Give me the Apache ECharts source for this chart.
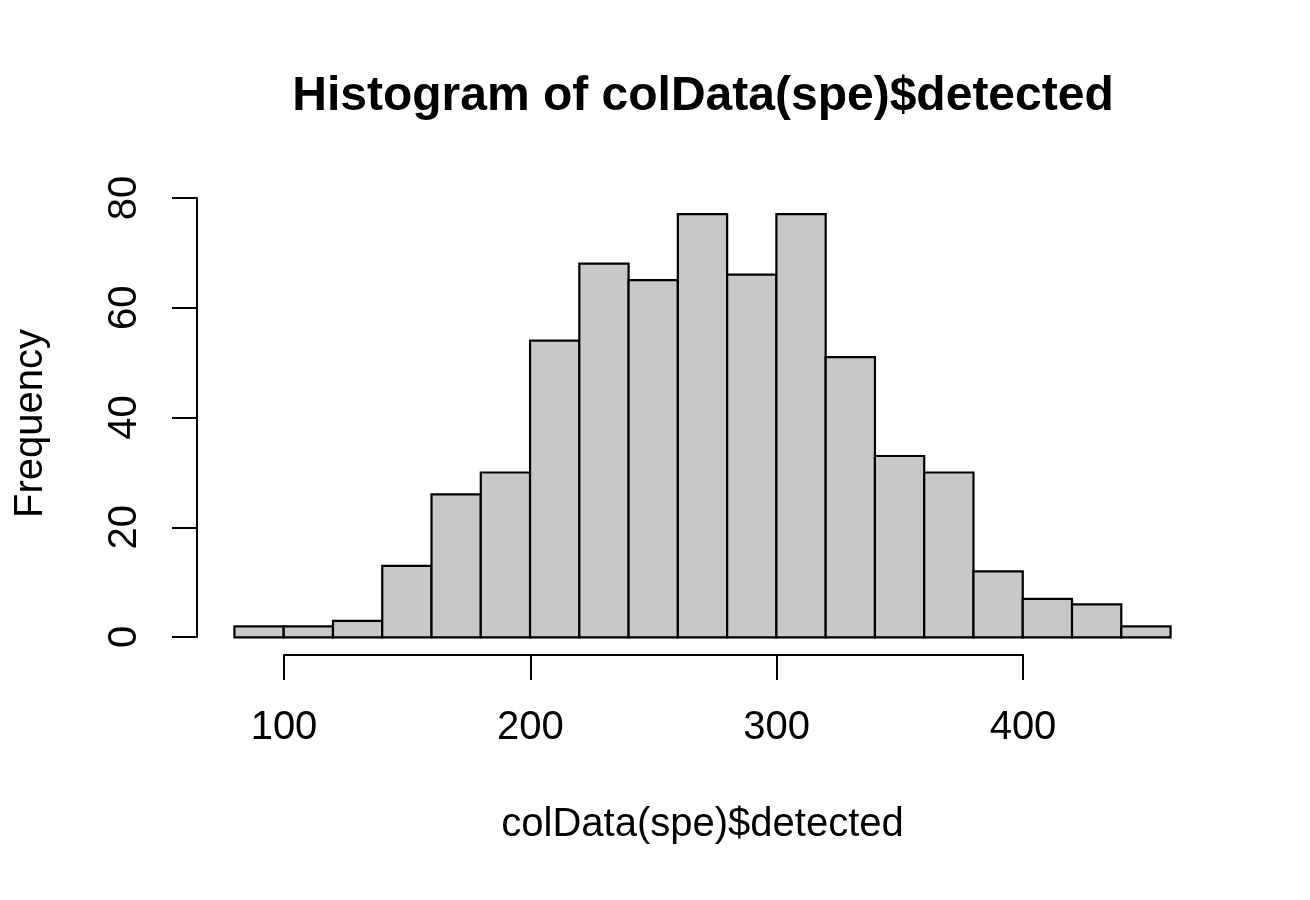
<!DOCTYPE html>
<html>
<head>
<meta charset="utf-8">
<script src="https://cdn.jsdelivr.net/npm/echarts@6/dist/echarts.min.js"></script>
<style>html,body{margin:0;padding:0;background:#fff}#c{width:1310px;height:900px}</style>
</head>
<body>
<div id="c"></div>
<script>
// Histogram data (bin edges and counts)
var binStarts = [80,100,120,140,160,180,200,220,240,260,280,300,320,340,360,380,400,420,440];
var binEnds   = [100,120,140,160,180,200,220,240,260,280,300,320,340,360,380,400,420,440,460];
var counts    = [2,2,3,13,26,30,54,68,65,77,66,77,51,33,30,12,7,6,2];
var xTicks = [100,200,300,400];
var yTicks = [0,20,40,60,80];
var titleText = 'Histogram of colData(spe)$detected';
var xName = 'colData(spe)$detected';
var yName = 'Frequency';

var FONT = '"Liberation Sans", Arial, Helvetica, sans-serif';
var xMin = 80, xMax = 460, yMin = 0, yMax = 80;
var xExt = (xMax - xMin) * 0.04, yExt = (yMax - yMin) * 0.04;

var data = binStarts.map(function (s, i) { return [s, binEnds[i], counts[i]]; });

var chart = echarts.init(document.getElementById('c'), null, {renderer: 'canvas'});
var option = {
  animation: false,
  backgroundColor: '#ffffff',
  graphic: [{
    type: 'text', x: 703, y: 97,
    style: {text: titleText, fontSize: 48, fontWeight: 'bold', fontFamily: FONT,
            fill: '#000', align: 'center', verticalAlign: 'middle'}
  }],
  grid: [
    {left: 197, right: 102, top: 180, bottom: 245, containLabel: false},
    {left: 284, right: 287, top: 198, bottom: 263, containLabel: false}
  ],
  xAxis: [
    {gridIndex: 0, type: 'value', min: xMin - xExt, max: xMax + xExt,
     axisLine: {show: false, onZero: false}, axisTick: {show: false}, axisLabel: {show: false}, splitLine: {show: false},
     name: xName, nameLocation: 'middle', nameGap: 150,
     nameTextStyle: {fontSize: 40, fontFamily: FONT, color: '#000'}},
    {gridIndex: 1, type: 'value', min: xTicks[0], max: xTicks[xTicks.length - 1], interval: 100,
     position: 'bottom', offset: 18,
     axisLine: {show: true, onZero: false, lineStyle: {color: '#000', width: 2}},
     axisTick: {show: true, length: 25, lineStyle: {color: '#000', width: 2}},
     axisLabel: {show: true, margin: 53, fontSize: 40, fontFamily: FONT, color: '#000'},
     splitLine: {show: false}}
  ],
  yAxis: [
    {gridIndex: 0, type: 'value', min: yMin - yExt, max: yMax + yExt,
     axisLine: {show: false, onZero: false}, axisTick: {show: false}, axisLabel: {show: false}, splitLine: {show: false},
     name: yName, nameLocation: 'middle', nameGap: 146,
     nameTextStyle: {fontSize: 40, fontFamily: FONT, color: '#000', padding: [0, 12, 0, 0]}},
    {gridIndex: 1, type: 'value', min: yTicks[0], max: yTicks[yTicks.length - 1], interval: 20,
     position: 'left', offset: 87,
     axisLine: {show: true, onZero: false, lineStyle: {color: '#000', width: 2}},
     axisTick: {show: true, length: 25, lineStyle: {color: '#000', width: 2}},
     axisLabel: {show: true, rotate: 90, margin: 52, fontSize: 40, fontFamily: FONT, color: '#000'},
     splitLine: {show: false}}
  ],
  series: [{
    type: 'custom',
    xAxisIndex: 0, yAxisIndex: 0,
    clip: false,
    data: data,
    renderItem: function (params, api) {
      var p0 = api.coord([api.value(0), 0]);
      var p1 = api.coord([api.value(1), api.value(2)]);
      return {
        type: 'rect',
        shape: {x: p0[0], y: p1[1], width: p1[0] - p0[0], height: p0[1] - p1[1]},
        style: {fill: '#c8c8c8', stroke: '#000', lineWidth: 2.2}
      };
    }
  }]
};
chart.setOption(option);
</script>
</body>
</html>
